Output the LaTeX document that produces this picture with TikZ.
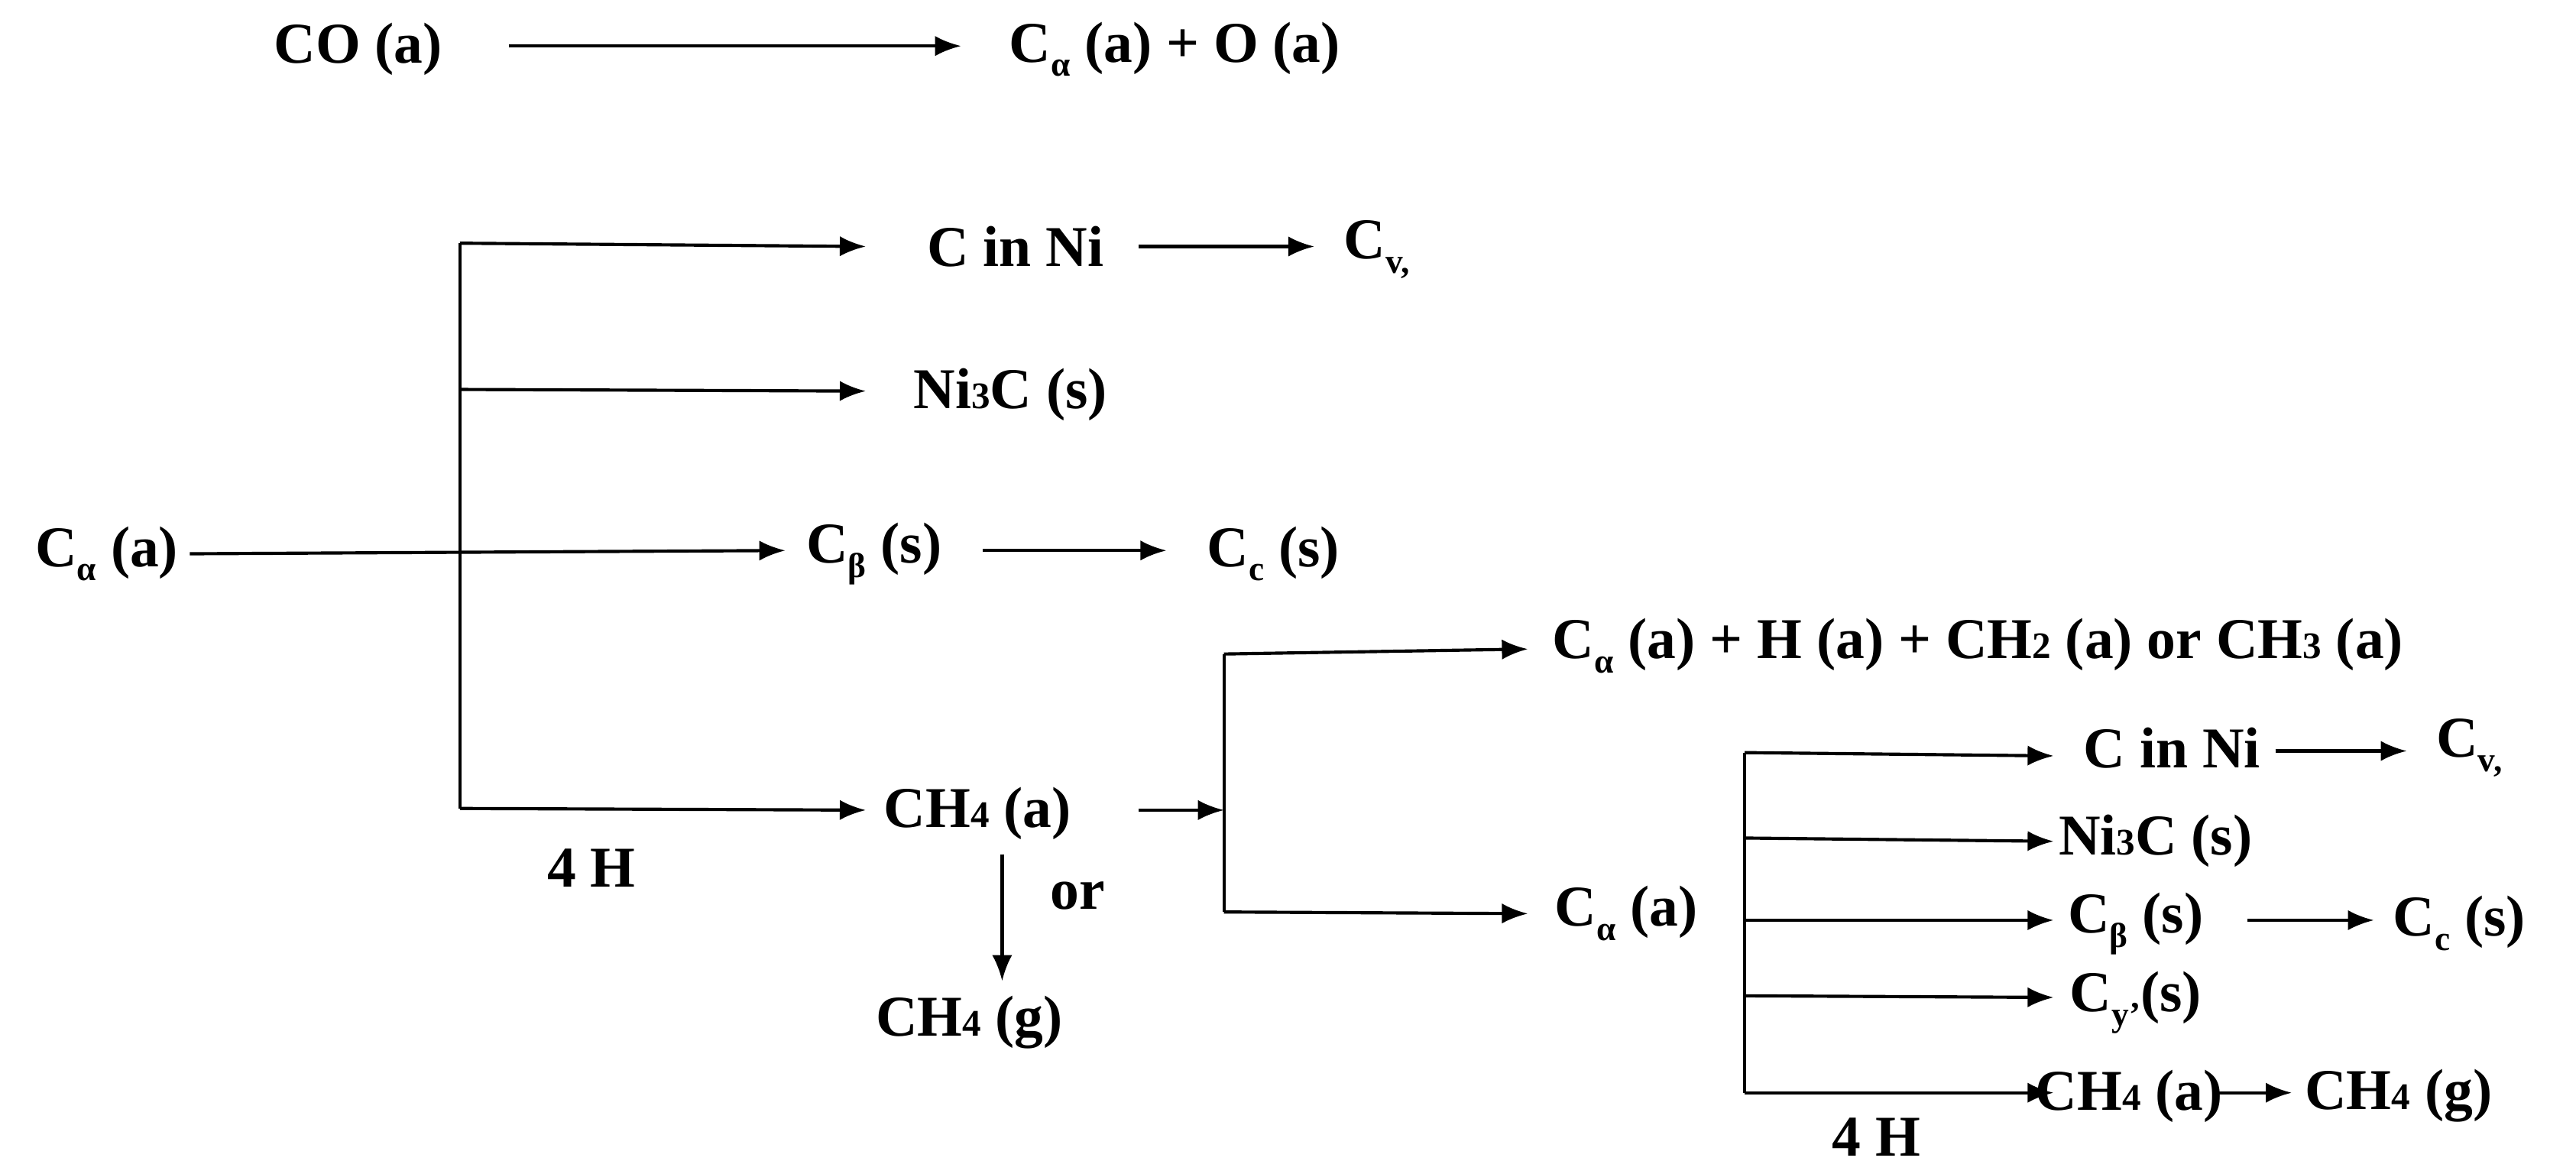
\documentclass[tikz,border=0pt]{standalone}
\usepackage{fontspec}
\setmainfont{Liberation Serif}
\usetikzlibrary{arrows.meta}
\newcommand{\lsub}[1]{\raisebox{-5pt}{\fontsize{12}{12}\selectfont #1}}
\newcommand{\nsub}[1]{{\fontsize{13}{13}\selectfont #1}}
\begin{document}
\begin{tikzpicture}[x=0.02cm,y=-0.02cm,
  lbl/.style={font=\fontsize{20}{22}\selectfont\bfseries, inner sep=1pt},
  arr/.style={-{Latex[length=9pt,width=7pt]}, line width=1.1pt},
  ln/.style={line width=1.1pt}]
\useasboundingbox (0,0) rectangle (1568,714);
% top reaction
\node[lbl] (co) at (218,30) {CO (a)};
\node[lbl] (cao) at (715,30) {C\lsub{α} (a) + O (a)};
\draw[arr] (310,28) -- (585,28);
% first branch
\node[lbl] (ca) at (65,337) {C\lsub{α} (a)};
\node[lbl] (cin1) at (618,150) {C in Ni};
\node[lbl] (cv1) at (838,152) {C\lsub{v,}};
\node[lbl] (ni1) at (615,240) {Ni\nsub{3}C (s)};
\node[lbl] (cb1) at (532,337) {C\lsub{β} (s)};
\node[lbl] (cc1) at (775,337) {C\lsub{c} (s)};
\node[lbl] (ch4a1) at (595,495) {CH\nsub{4} (a)};
\node[lbl] (ch4g1) at (590,622) {CH\nsub{4} (g)};
\node[lbl] (or) at (656,545) {or};
\node[lbl] (h41) at (360,528) {4 H};
\coordinate (b1t) at (280,148);
\coordinate (b1m) at (280,237);
\coordinate (b1b) at (280,492);
\draw[ln] (b1t) -- (b1b);
\draw[arr] (b1t) -- (527,150);
\draw[arr] (b1m) -- (527,238);
\draw[arr] (b1b) -- (527,493);
\draw[arr] (ca.east) ++(5,0) -- (478,335);
\draw[arr] (693,150) -- (800,150);
\draw[arr] (598,335) -- (710,335);
\draw[arr] (610,520) -- (610,597);
% second branch
\coordinate (b2t) at (745,398);
\coordinate (b2b) at (745,555);
\draw[arr] (693,493) -- (745,493);
\draw[ln] (b2t) -- (b2b);
\draw[arr] (b2t) -- (930,395);
\draw[arr] (b2b) -- (930,556);
\node[lbl] (mix) at (1204,393) {C\lsub{α} (a) + H (a) + CH\nsub{2} (a) or CH\nsub{3} (a)};
\node[lbl] (ca2) at (990,556) {C\lsub{α} (a)};
% third branch
\coordinate (b3t) at (1062,458);
\coordinate (b3b) at (1062,665);
\draw[ln] (b3t) -- (b3b);
\draw[arr] (b3t) -- (1250,460);
\draw[arr] (1062,510) -- (1250,512);
\draw[arr] (1062,560) -- (1250,560);
\draw[arr] (1062,606) -- (1250,607);
\draw[arr] (b3b) -- (1250,665);
\node[lbl] (cin2) at (1322,455) {C in Ni};
\node[lbl] (cv2) at (1503,455) {C\lsub{v,}};
\node[lbl] (ni2) at (1312,512) {Ni\nsub{3}C (s)};
\node[lbl] (cb2) at (1300,562) {C\lsub{β} (s)};
\node[lbl] (cc2) at (1497,562) {C\lsub{c} (s)};
\node[lbl] (cy) at (1300,610) {C\lsub{y'}(s)};
\node[lbl] (ch4a2) at (1296,667) {CH\nsub{4} (a)};
\node[lbl] (ch4g2) at (1460,667) {CH\nsub{4} (g)};
\node[lbl] (h42) at (1142,692) {4 H};
\draw[arr] (1385,457) -- (1465,457);
\draw[arr] (1368,560) -- (1445,560);
\draw[arr] (1350,665) -- (1395,665);
\end{tikzpicture}
\end{document}
